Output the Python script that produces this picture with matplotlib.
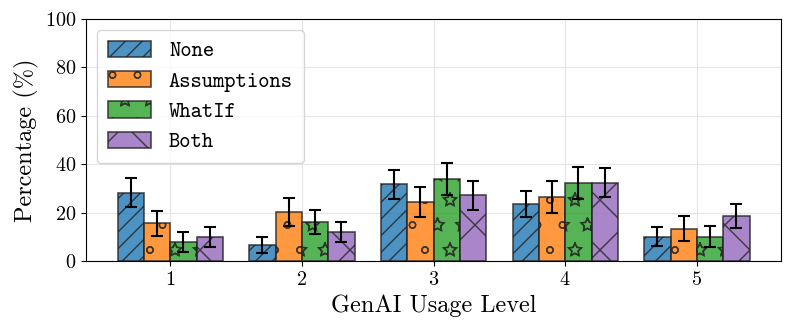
import matplotlib
matplotlib.use("Agg")
import matplotlib.pyplot as plt
import matplotlib.hatch as mhatch
import numpy as np

plt.rcParams['font.family'] = 'serif'
plt.rcParams['font.serif'] = ['cmr10', 'DejaVu Serif']
plt.rcParams['mathtext.fontset'] = 'cm'
plt.rcParams['axes.formatter.use_mathtext'] = True
plt.rcParams['hatch.linewidth'] = 1.0

# hollow stars, coarser hatch tile but small shapes, as in the reference
mhatch.Stars.filled = False
mhatch.Stars.size = 0.28
mhatch.SmallCircles.size = 0.13
_get_path = mhatch.get_path
mhatch.get_path = lambda pattern, density=6: _get_path(pattern, 4)

levels = [1, 2, 3, 4, 5]
conditions = ['None', 'Assumptions', 'WhatIf', 'Both']

none_vals = [28.2, 6.6, 31.7, 23.4, 10.0]
assump_vals = [15.6, 20.1, 24.4, 26.6, 13.4]
whatif_vals = [7.9, 16.0, 33.9, 32.1, 10.0]
both_vals = [10.0, 11.9, 27.1, 32.4, 18.7]

none_err = [6.0, 3.2, 6.0, 5.4, 3.9]
assump_err = [5.2, 5.8, 6.3, 6.6, 5.1]
whatif_err = [4.0, 5.0, 6.7, 6.6, 4.3]
both_err = [4.0, 4.2, 5.8, 5.9, 4.9]

values = [none_vals, assump_vals, whatif_vals, both_vals]
errors = [none_err, assump_err, whatif_err, both_err]
colors = ['#1f77b4', '#ff7f0e', '#2ca02c', '#9467bd']
hatches = ['///', 'o', '*', 'x']

fig, ax = plt.subplots(figsize=(7.93, 3.33), dpi=100)

x = np.array(levels)
width = 0.2
for i, cond in enumerate(conditions):
    offset = (i - 1.5) * width
    ax.bar(x + offset, values[i], width, yerr=errors[i], label=cond,
           color=colors[i], alpha=0.8, edgecolor='#222222', linewidth=1.2,
           hatch=hatches[i], capsize=4.5,
           error_kw=dict(ecolor='black', elinewidth=1.5, capthick=1.5),
           zorder=3)

ax.set_ylim(0, 100)
ax.set_xticks(levels)
ax.set_xlabel('GenAI Usage Level', fontsize=17.5)
ax.set_ylabel('Percentage (%)', fontsize=17.5)
ax.tick_params(axis='both', labelsize=14.5)
ax.grid(True, color='#e5e5e5', linewidth=0.8, zorder=0)
ax.set_axisbelow(True)

leg = ax.legend(loc='upper left', prop={'family': 'cmtt10', 'size': 15.5},
                handlelength=2.0, handleheight=0.8, labelspacing=0.45,
                borderpad=0.5, handletextpad=0.85)

fig.subplots_adjust(left=0.1085, right=0.985, top=0.943, bottom=0.216)
fig.savefig('out.png', dpi=100)
